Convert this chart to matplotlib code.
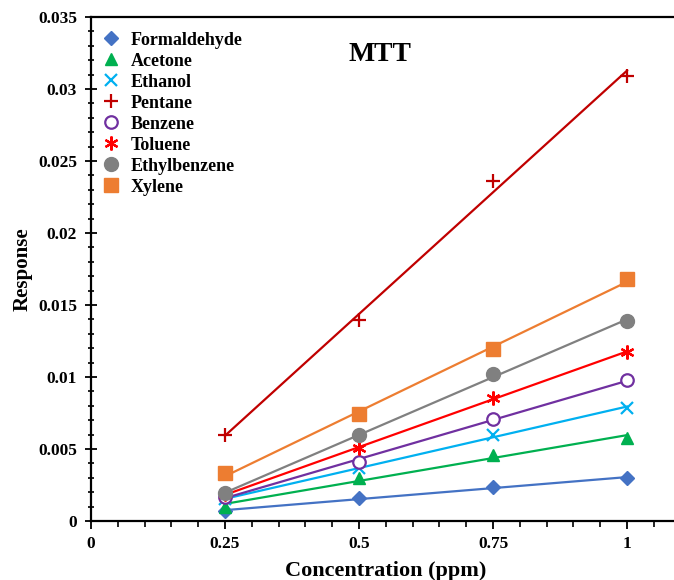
import numpy as np
import matplotlib
matplotlib.use("Agg")
import matplotlib.pyplot as plt
from matplotlib.ticker import MultipleLocator, FixedLocator

plt.rcParams['font.family'] = ['Liberation Serif', 'DejaVu Serif']
plt.rcParams['font.weight'] = 'bold'

concentration = [0.25, 0.5, 0.75, 1.0]

formaldehyde = [0.00068, 0.00160, 0.00235, 0.00298]
acetone = [0.00100, 0.00298, 0.00455, 0.00578]
ethanol = [0.00150, 0.00366, 0.00597, 0.00785]
pentane = [0.00595, 0.01395, 0.02360, 0.03090]
benzene = [0.00170, 0.00412, 0.00706, 0.00977]
toluene = [0.00185, 0.00505, 0.00852, 0.01176]
ethylbenzene = [0.00192, 0.00595, 0.01019, 0.01388]
xylene = [0.00330, 0.00740, 0.01195, 0.01678]

series = [
    ("Formaldehyde", formaldehyde, "#4472C4", "D", True, 7.5),
    ("Acetone", acetone, "#00B050", "^", True, 8.5),
    ("Ethanol", ethanol, "#00B0F0", "x", True, 9),
    ("Pentane", pentane, "#C00000", "+", True, 10),
    ("Benzene", benzene, "#7030A0", "o", False, 9),
    ("Toluene", toluene, "#FF0000", (6, 2, 0), True, 10),
    ("Ethylbenzene", ethylbenzene, "#808080", "o", True, 10),
    ("Xylene", xylene, "#ED7D31", "s", True, 9.5),
]

fig = plt.figure(figsize=(6.74, 5.80), dpi=100)
ax = fig.add_axes([0.135, 0.1017, 0.8748, 0.869])

x = np.array(concentration)
handles = []
for name, vals, color, marker, filled, ms in series:
    slope, intercept = np.polyfit(x, np.array(vals), 1)
    ax.plot(x, slope * x + intercept, color=color, lw=1.6, zorder=2)
    thin = marker in ('x', '+') or isinstance(marker, tuple) or not filled
    h, = ax.plot(x, vals, linestyle='none', marker=marker, markersize=ms,
                 color=color,
                 markerfacecolor=color if filled else 'white',
                 markeredgecolor=color,
                 markeredgewidth=1.6 if thin else 1.0,
                 label=name, zorder=3)
    handles.append(h)

ax.set_xlim(0, 1.1)
ax.set_ylim(0, 0.035)
ax.xaxis.set_major_locator(FixedLocator([0, 0.25, 0.5, 0.75, 1.0]))
ax.set_xticklabels(['0', '0.25', '0.5', '0.75', '1'])
ax.xaxis.set_minor_locator(MultipleLocator(0.05))
ax.set_yticks([0, 0.005, 0.01, 0.015, 0.02, 0.025, 0.03, 0.035])
ax.set_yticklabels(['0', '0.005', '0.01', '0.015', '0.02', '0.025', '0.03', '0.035'])
ax.yaxis.set_minor_locator(MultipleLocator(0.001))

ax.tick_params(axis='both', which='major', labelsize=12.5, width=1.3)
ax.tick_params(axis='x', which='major', direction='out', length=6, pad=5)
ax.tick_params(axis='y', which='major', direction='inout', length=8, pad=6)
ax.tick_params(axis='x', which='minor', direction='out', length=4, width=1.2)
ax.tick_params(axis='y', which='minor', direction='inout', length=5, width=1.2)
for lbl in ax.get_xticklabels() + ax.get_yticklabels():
    lbl.set_fontweight('bold')

ax.spines['right'].set_visible(False)
for s in ('left', 'bottom', 'top'):
    ax.spines[s].set_linewidth(1.6)

ax.set_xlabel('Concentration (ppm)', fontsize=16, fontweight='bold', labelpad=6)
ax.set_ylabel('Response', fontsize=15, fontweight='bold', labelpad=4)
ax.text(0.539, 0.0324, 'MTT', fontsize=20, fontweight='bold', ha='center', va='center')

leg = ax.legend(handles=handles, loc='upper left', frameon=False,
                prop={'weight': 'bold', 'size': 13}, labelspacing=0.22,
                handlelength=1.0, handletextpad=0.6, borderaxespad=0.0,
                bbox_to_anchor=(0.006, 0.985))

fig.savefig('out.png', dpi=100)
